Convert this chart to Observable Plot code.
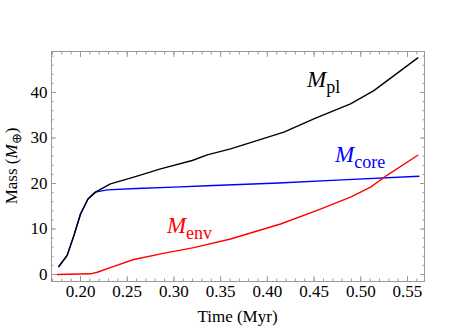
<!DOCTYPE html>
<html><head><meta charset="utf-8">
<script src="https://cdn.jsdelivr.net/npm/d3@7"></script>
<script src="https://cdn.jsdelivr.net/npm/@observablehq/plot@0.6"></script>
<style>body{margin:0;background:#fff}</style>
</head><body><div id="chart"></div>
<script>
// Planet mass M_pl
const timePl = [0.1768, 0.1857, 0.193, 0.200, 0.208, 0.216, 0.232, 0.257, 0.2857, 0.3196, 0.3357, 0.3606, 0.4177, 0.451, 0.489, 0.514, 0.561];
const massPl = [1.76, 4.2, 8.6, 13.3, 16.6, 18.1, 19.9, 21.4, 23.2, 25.05, 26.3, 27.6, 31.3, 34.3, 37.5, 40.4, 47.6];
// Core mass M_core
const timeCore = [0.1768, 0.1857, 0.193, 0.200, 0.208, 0.216, 0.2286, 0.26, 0.30, 0.3357, 0.4123, 0.48, 0.5622];
const massCore = [1.76, 4.2, 8.6, 13.3, 16.6, 18.1, 18.6, 18.9, 19.2, 19.5, 20.1, 20.8, 21.6];
// Envelope mass M_env
const timeEnv = [0.175, 0.2107, 0.2179, 0.2357, 0.257, 0.29, 0.3213, 0.3606, 0.4141, 0.4534, 0.489, 0.5105, 0.528, 0.561];
const massEnv = [0, 0.15, 0.5, 1.8, 3.3, 4.7, 5.9, 7.8, 11.1, 14.1, 17.0, 19.2, 21.8, 26.2];

const seriesNames = ["core", "env", "pl"];
const seriesColors = ["#0000ff", "#ff0000", "#000000"];

const xTicks = [0.20, 0.25, 0.30, 0.35, 0.40, 0.45, 0.50, 0.55];
const yTicks = [0, 10, 20, 30, 40];
const xMinor = d3.range(17, 57).map(d => d / 100);
const yMinor = d3.range(0, 50, 2);

// label anchor positions (data coords)
const labelSub = ["pl", "core", "env"];
const labelT = [0.443, 0.473, 0.293];
const labelM = [41.1, 24.6, 9.0];

const rows = [];
timeCore.forEach((t, i) => rows.push({series: "core", t, m: massCore[i]}));
timeEnv.forEach((t, i) => rows.push({series: "env", t, m: massEnv[i]}));
timePl.forEach((t, i) => rows.push({series: "pl", t, m: massPl[i]}));

const gray = "#9a9a9a";
const blank = () => "";

const plot = Plot.plot({
  width: 475, height: 332,
  marginLeft: 51, marginRight: 51, marginTop: 51, marginBottom: 51,
  style: {fontFamily: "'Liberation Serif', 'Times New Roman', serif", fontSize: "17px", background: "white", color: "black"},
  x: {domain: [0.16895, 0.5682]},
  y: {domain: [-1.54, 49.01]},
  color: {domain: seriesNames, range: seriesColors},
  marks: [
    Plot.frame({stroke: gray}),
    Plot.axisX(xMinor, {anchor: "bottom", tickSize: -2.5, stroke: gray, tickFormat: blank, label: null}),
    Plot.axisX(xMinor, {anchor: "top", tickSize: -2.5, stroke: gray, tickFormat: blank, label: null}),
    Plot.axisX(xTicks, {anchor: "bottom", tickSize: -5, tickPadding: 8.5, stroke: gray, fill: "black", tickFormat: d3.format(".2f"), label: null}),
    Plot.axisX(xTicks, {anchor: "top", tickSize: -5, stroke: gray, tickFormat: blank, label: null}),
    Plot.axisY(yMinor, {anchor: "left", tickSize: -2.5, stroke: gray, tickFormat: blank, label: null}),
    Plot.axisY(yMinor, {anchor: "right", tickSize: -2.5, stroke: gray, tickFormat: blank, label: null}),
    Plot.axisY(yTicks, {anchor: "left", tickSize: -5, tickPadding: 9, stroke: gray, fill: "black", tickFormat: d3.format("d"), label: null}),
    Plot.axisY(yTicks, {anchor: "right", tickSize: -5, stroke: gray, tickFormat: blank, label: null}),
    Plot.line(rows, {x: "t", y: "m", z: "series", stroke: "series", strokeWidth: 1.4})
  ]
});

document.getElementById("chart").appendChild(plot);

const svg = d3.select(plot);
const sx = plot.scale("x"), sy = plot.scale("y");
const font = "'Liberation Serif', 'Times New Roman', serif";
const labelColors = ["#000000", "#0000ff", "#ff0000"];

labelSub.forEach((sub, i) => {
  const t = svg.append("text")
    .attr("x", sx.apply(labelT[i]))
    .attr("y", sy.apply(labelM[i]))
    .attr("text-anchor", "start")
    .attr("fill", labelColors[i])
    .attr("font-family", font)
    .attr("font-size", 23);
  t.append("tspan").attr("font-style", "italic").text("M");
  t.append("tspan").attr("font-size", 18).attr("dy", 6).text(sub);
});

const [x0, x1] = sx.range;
const [y0, y1] = sy.range;
svg.append("text")
  .attr("x", (x0 + x1) / 2)
  .attr("y", y0 + 41)
  .attr("text-anchor", "middle")
  .attr("font-family", font)
  .attr("font-size", 17)
  .attr("fill", "black")
  .text("Time (Myr)");

const ml = svg.append("text")
  .attr("transform", `translate(17,${(y0 + y1) / 2}) rotate(-90)`)
  .attr("text-anchor", "middle")
  .attr("font-family", font)
  .attr("font-size", 17)
  .attr("fill", "black");
ml.append("tspan").text("Mass (");
ml.append("tspan").attr("font-style", "italic").text("M");
ml.append("tspan").attr("font-size", 13).attr("dy", 4).text("⊕");
ml.append("tspan").attr("dy", -4).text(")");
</script>
</body></html>
